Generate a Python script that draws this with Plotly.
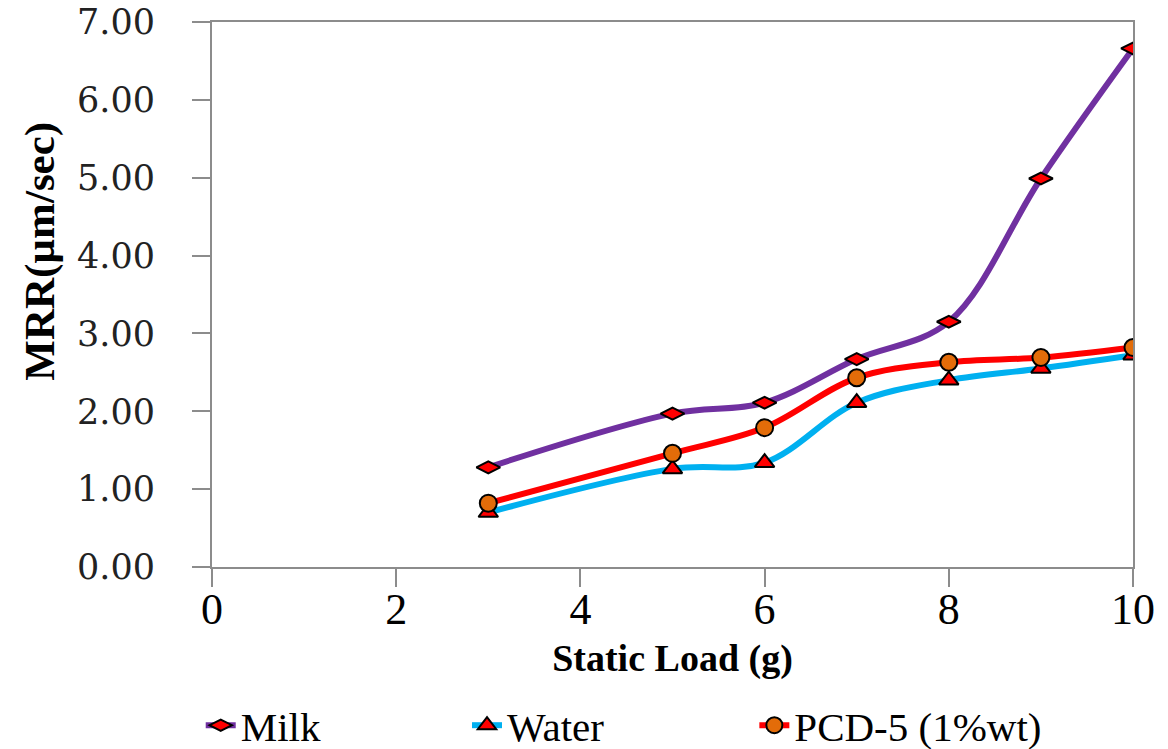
import plotly.graph_objects as go

static_load = [3, 5, 6, 7, 8, 9, 10]
milk = [1.28, 1.97, 2.11, 2.67, 3.15, 4.99, 6.66]
water = [0.70, 1.26, 1.34, 2.11, 2.40, 2.55, 2.72]
pcd5 = [0.82, 1.46, 1.79, 2.43, 2.63, 2.69, 2.82]

x_ticks = [0, 2, 4, 6, 8, 10]
y_ticks = [0, 1, 2, 3, 4, 5, 6, 7]
y_tick_text = [f"{v:.2f}" for v in y_ticks]

series = [
    ("Milk", milk, "#7030A0", "diamond-wide", "#FF0000", "legend", 0.165),
    ("Water", water, "#00B0F0", "triangle-up", "#FF0000", "legend2", 0.393),
    ("PCD-5 (1%wt)", pcd5, "#FF0000", "circle", "#E36C09", "legend3", 0.639),
]

SERIF = "Liberation Serif"

fig = go.Figure()
for name, ys, lc, sym, mc, lg, _ in series:
    fig.add_trace(go.Scatter(
        x=static_load, y=ys, name=name, mode="lines+markers", legend=lg,
        line=dict(color=lc, width=6, shape="spline", smoothing=1),
        marker=dict(symbol=sym, size=17, color=mc, line=dict(color="black", width=2)),
    ))

axis_common = dict(
    showgrid=False, zeroline=False, showline=True, linecolor="#8c8c8c", linewidth=2,
    mirror=True, ticks="outside", tickcolor="#8c8c8c", tickwidth=2, ticklen=18,
    automargin=False, ticklabeloverflow="allow",
)

legend_layout = {}
for name, ys, lc, sym, mc, lg, lx in series:
    legend_layout[lg] = dict(
        orientation="h", xref="container", x=lx, xanchor="left",
        yref="container", y=0.042, yanchor="middle",
        font=dict(family=SERIF, size=41, color="black"),
        itemwidth=30, bgcolor="rgba(0,0,0,0)",
    )

fig.update_layout(
    width=1168, height=749,
    margin=dict(l=204, r=43, t=14, b=190),
    paper_bgcolor="white", plot_bgcolor="white",
    showlegend=True,
    xaxis=dict(
        range=[0, 10], tickvals=x_ticks,
        tickfont=dict(family=SERIF, size=44, color="black"),
        ticklabelstandoff=-16,
        title=dict(text="<b>Static Load (g)</b>", standoff=12,
                   font=dict(family=SERIF, size=38, color="black")),
        **axis_common,
    ),
    yaxis=dict(
        range=[0, 7], tickvals=y_ticks, ticktext=y_tick_text,
        tickfont=dict(family="DejaVu Serif", size=35, color="#222"),
        ticklabelstandoff=30,
        **axis_common,
    ),
    annotations=[dict(
        text="<b>MRR(µm/sec)</b>", textangle=-90, xref="paper", yref="paper",
        x=-0.187, y=0.58, xanchor="center", yanchor="middle", showarrow=False,
        font=dict(family=SERIF, size=43, color="black"),
    )],
    **legend_layout,
)

fig.write_html("out.html")
